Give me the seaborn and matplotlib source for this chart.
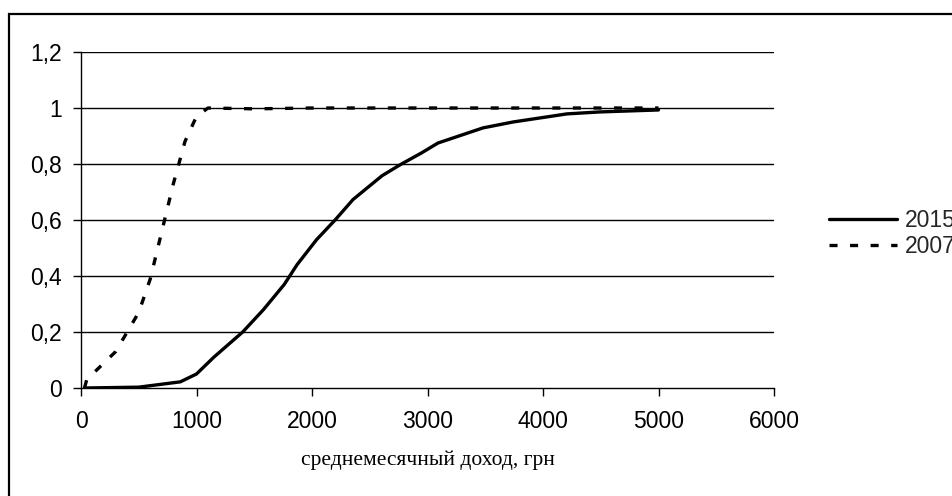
import matplotlib
matplotlib.use("Agg")
import matplotlib.pyplot as plt
from matplotlib.patches import Rectangle
from matplotlib.ticker import FuncFormatter, MultipleLocator
import seaborn as sns
import pandas as pd

# Cumulative share of households by average monthly income (UAH)
income_2015 = [30, 500, 860, 1000, 1150, 1400, 1580, 1760, 1870, 2040,
               2200, 2355, 2606, 2762, 2950, 3091, 3481, 3740, 4208, 4494, 5000]
share_2015 = [0.0, 0.003, 0.022, 0.05, 0.11, 0.2, 0.28, 0.37, 0.44, 0.53,
              0.6, 0.673, 0.758, 0.797, 0.84, 0.875, 0.929, 0.95, 0.979, 0.986, 0.993]

income_2007 = [30, 50, 150, 300, 400, 500, 600, 700, 800, 900, 1000, 1100,
               1500, 2000, 3000, 4000, 5000]
share_2007 = [0.0, 0.03, 0.07, 0.13, 0.2, 0.27, 0.39, 0.56, 0.73, 0.88, 0.97, 1.0,
              0.997, 1.0, 1.0, 1.0, 1.0]

series_labels = ["2015", "2007"]
y_ticks = [0, 0.2, 0.4, 0.6, 0.8, 1.0, 1.2]
x_label = "среднемесячный доход, грн"

df = pd.concat([
    pd.DataFrame({"income": income_2015, "share": share_2015, "year": series_labels[0]}),
    pd.DataFrame({"income": income_2007, "share": share_2007, "year": series_labels[1]}),
], ignore_index=True)

sns.set_theme(style="white")
plt.rcParams["font.family"] = ["Liberation Sans", "DejaVu Sans"]
plt.rcParams["lines.scale_dashes"] = False

W, H = 952, 496
fig = plt.figure(figsize=(W / 100, H / 100), dpi=100)
ax = fig.add_axes([81 / W, (H - 388) / H, (774 - 81) / W, (388 - 52) / H])

sns.lineplot(
    data=df, x="income", y="share", hue="year", style="year",
    palette={"2015": "black", "2007": "black"},
    dashes={"2015": "", "2007": (5.8, 9.0)},
    hue_order=series_labels, style_order=series_labels,
    estimator=None, sort=False, linewidth=2.4, ax=ax, legend=True,
)

ax.set_xlim(0, 6000)
ax.set_ylim(0, 1.2)
ax.xaxis.set_major_locator(MultipleLocator(1000))
ax.set_yticks(y_ticks)
ax.yaxis.set_major_formatter(FuncFormatter(lambda v, p: f"{v:g}".replace(".", ",")))

ax.grid(False)
for yv in y_ticks[1:]:
    ax.axhline(yv, color="black", lw=1.0, zorder=0)

for side in ["top", "right"]:
    ax.spines[side].set_visible(False)
for side in ["left", "bottom"]:
    ax.spines[side].set_color("black")
    ax.spines[side].set_linewidth(1.0)

ax.tick_params(axis="both", direction="out", length=5.5, width=1.0, color="black",
               labelsize=16.5, labelcolor="black")
ax.tick_params(axis="y", pad=8.5)
ax.tick_params(axis="x", pad=10)
ax.tick_params(bottom=True, left=True)

ax.set_xlabel(x_label, family=["Liberation Serif", "DejaVu Serif"], fontsize=15.5,
              labelpad=13, color="black")
ax.set_ylabel("")

handles, labels = ax.get_legend_handles_labels()
ax.get_legend().remove()
fig.legend(handles, labels, loc="center left",
           bbox_to_anchor=(829 / W, (H - 233.5) / H), bbox_transform=fig.transFigure,
           frameon=False, fontsize=16.5, handlelength=2.96, handletextpad=0.35,
           labelspacing=0.1, borderpad=0, borderaxespad=0)

# outer chart frame
fig.patches.append(Rectangle((9 / W, -0.2), 1.2, 0.2 + (H - 14) / H,
                             transform=fig.transFigure, fill=False,
                             edgecolor="black", linewidth=1.6))

fig.savefig("out.png", dpi=100)
